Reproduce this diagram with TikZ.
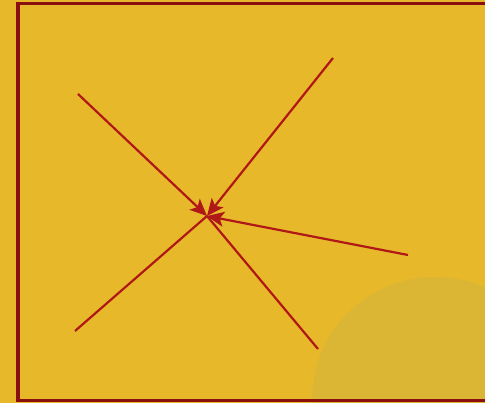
\documentclass[tikz,border=0pt]{standalone}
\usetikzlibrary{arrows.meta}
\definecolor{bg}{HTML}{E6B82A}
\definecolor{blob}{HTML}{DBB534}
\definecolor{frame}{HTML}{8A1010}
\definecolor{ln}{HTML}{B01818}
\tikzset{
  conn/.style={draw=ln, line width=2.2pt},
  arr/.style={conn, -{Stealth[length=17pt,width=15pt,inset=4pt]}}
}
\begin{document}
\begin{tikzpicture}[x=1pt,y=-1pt]
\fill[bg] (0,0) rectangle (485,403);
\useasboundingbox (0,0) rectangle (485,403);
\begin{scope}
\clip (0,0) rectangle (485,403);
\fill[blob] (435,400) circle (123);
\draw[frame, line width=3.6pt] (18,3.5) -- (488,3.5) -- (488,400.5) -- (18,400.5) -- cycle;
\end{scope}
\coordinate (c) at (207,216);
\coordinate (ul) at (78,94);
\coordinate (ur) at (333,58);
\coordinate (r) at (408,255);
\coordinate (ll) at (75,331);
\coordinate (lr) at (318,349);
\draw[conn] (ll) -- (c);
\draw[conn] (lr) -- (c);
\draw[arr] (ul) -- (c);
\draw[arr] (ur) -- (c);
\draw[arr] (r) -- (c);
\end{tikzpicture}
\end{document}
